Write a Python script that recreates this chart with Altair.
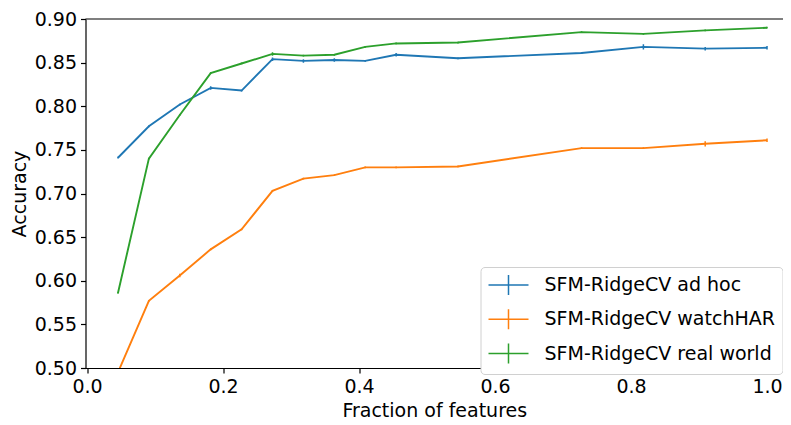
import altair as alt
import pandas as pd

fractions = [1/22, 2/22, 3/22, 4/22, 5/22, 6/22, 7/22, 8/22, 9/22, 10/22,
             12/22, 16/22, 18/22, 20/22, 22/22]

series_names = ["SFM-RidgeCV ad hoc", "SFM-RidgeCV watchHAR", "SFM-RidgeCV real world"]

adhoc = [0.741, 0.777, 0.802, 0.821, 0.818, 0.854, 0.852, 0.853, 0.852, 0.859,
         0.855, 0.861, 0.868, 0.866, 0.867]
adhoc_err = [0.001, 0.001, 0.001, 0.002, 0.001, 0.002, 0.002, 0.002, 0.001, 0.002,
             0.001, 0.001, 0.003, 0.002, 0.002]

watchhar = [0.495, 0.577, 0.606, 0.636, 0.659, 0.703, 0.717, 0.721, 0.730, 0.730,
            0.731, 0.752, 0.752, 0.757, 0.761]
watchhar_err = [0.001, 0.001, 0.002, 0.001, 0.001, 0.001, 0.001, 0.001, 0.001, 0.001,
                0.001, 0.001, 0.001, 0.003, 0.002]

realworld = [0.586, 0.740, 0.790, 0.838, 0.849, 0.860, 0.858, 0.859, 0.868, 0.872,
             0.873, 0.885, 0.883, 0.887, 0.890]
realworld_err = [0.001, 0.001, 0.001, 0.001, 0.001, 0.002, 0.001, 0.001, 0.001, 0.001,
                 0.001, 0.001, 0.001, 0.001, 0.001]

colors = ["#1f77b4", "#ff7f0e", "#2ca02c"]

rows = []
for name, vals, errs in zip(series_names, [adhoc, watchhar, realworld],
                            [adhoc_err, watchhar_err, realworld_err]):
    for f, v, e in zip(fractions, vals, errs):
        rows.append({"series": name, "fraction": f, "accuracy": v,
                     "lo": v - e, "hi": v + e})
df = pd.DataFrame(rows)

FONT = "DejaVu Sans"
FS = 19

xscale = alt.Scale(domain=[-0.0023, 1.0235], nice=False, zero=False)
yscale = alt.Scale(domain=[0.5, 0.9], nice=False, zero=False)

color = alt.Color(
    "series:N",
    scale=alt.Scale(domain=series_names, range=colors),
    sort=series_names,
    legend=alt.Legend(
        title=None, orient="none", legendX=395, legendY=248,
        symbolType="M-1,0L3,0M1,-1L1,1", symbolSize=400, symbolStrokeWidth=1.5,
        labelFont=FONT, labelFontSize=FS, labelColor="black", labelOffset=35,
        labelLimit=400,
        padding=7, rowPadding=8.3, strokeColor="#d0d0d0", fillColor="white",
        cornerRadius=4,
    ),
)

base = alt.Chart(df)

lines = base.mark_line(strokeWidth=1.9, clip=True).encode(
    x=alt.X("fraction:Q", scale=xscale,
            axis=alt.Axis(title="Fraction of features", values=[0, 0.2, 0.4, 0.6, 0.8, 1.0],
                          format=".1f", grid=False)),
    y=alt.Y("accuracy:Q", scale=yscale,
            axis=alt.Axis(title="Accuracy", values=[0.5, 0.55, 0.6, 0.65, 0.7, 0.75, 0.8, 0.85, 0.9],
                          format=".2f", grid=False)),
    color=color,
    order="fraction:Q",
)

bars = base.mark_rule(strokeWidth=1.5, clip=True).encode(
    x="fraction:Q",
    y="lo:Q",
    y2="hi:Q",
    color=alt.Color("series:N", scale=alt.Scale(domain=series_names, range=colors), legend=None),
)

topline = alt.Chart(pd.DataFrame({"y": [0.9]})).mark_rule(color="black", strokeWidth=1.2).encode(
    y=alt.Y("y:Q", scale=yscale)
)

chart = alt.layer(lines, bars, topline).properties(
    width=697.5, height=349,
    autosize=alt.AutoSizeParams(type="none"),
    padding={"left": 77.5, "top": 11, "right": 0, "bottom": 57},
).configure_view(stroke=None).configure_axis(
    labelFont=FONT, labelFontSize=FS, labelColor="black",
    titleFont=FONT, titleFontSize=FS, titleColor="black", titleFontWeight="normal",
    domainColor="black", domainWidth=1.2, tickColor="black", tickWidth=1.2, tickSize=5,
    labelPadding=4,
).configure_axisY(titlePadding=5).configure_axisX(titlePadding=5)

chart.save("out.html", embed_options={"renderer": "svg", "actions": False})
